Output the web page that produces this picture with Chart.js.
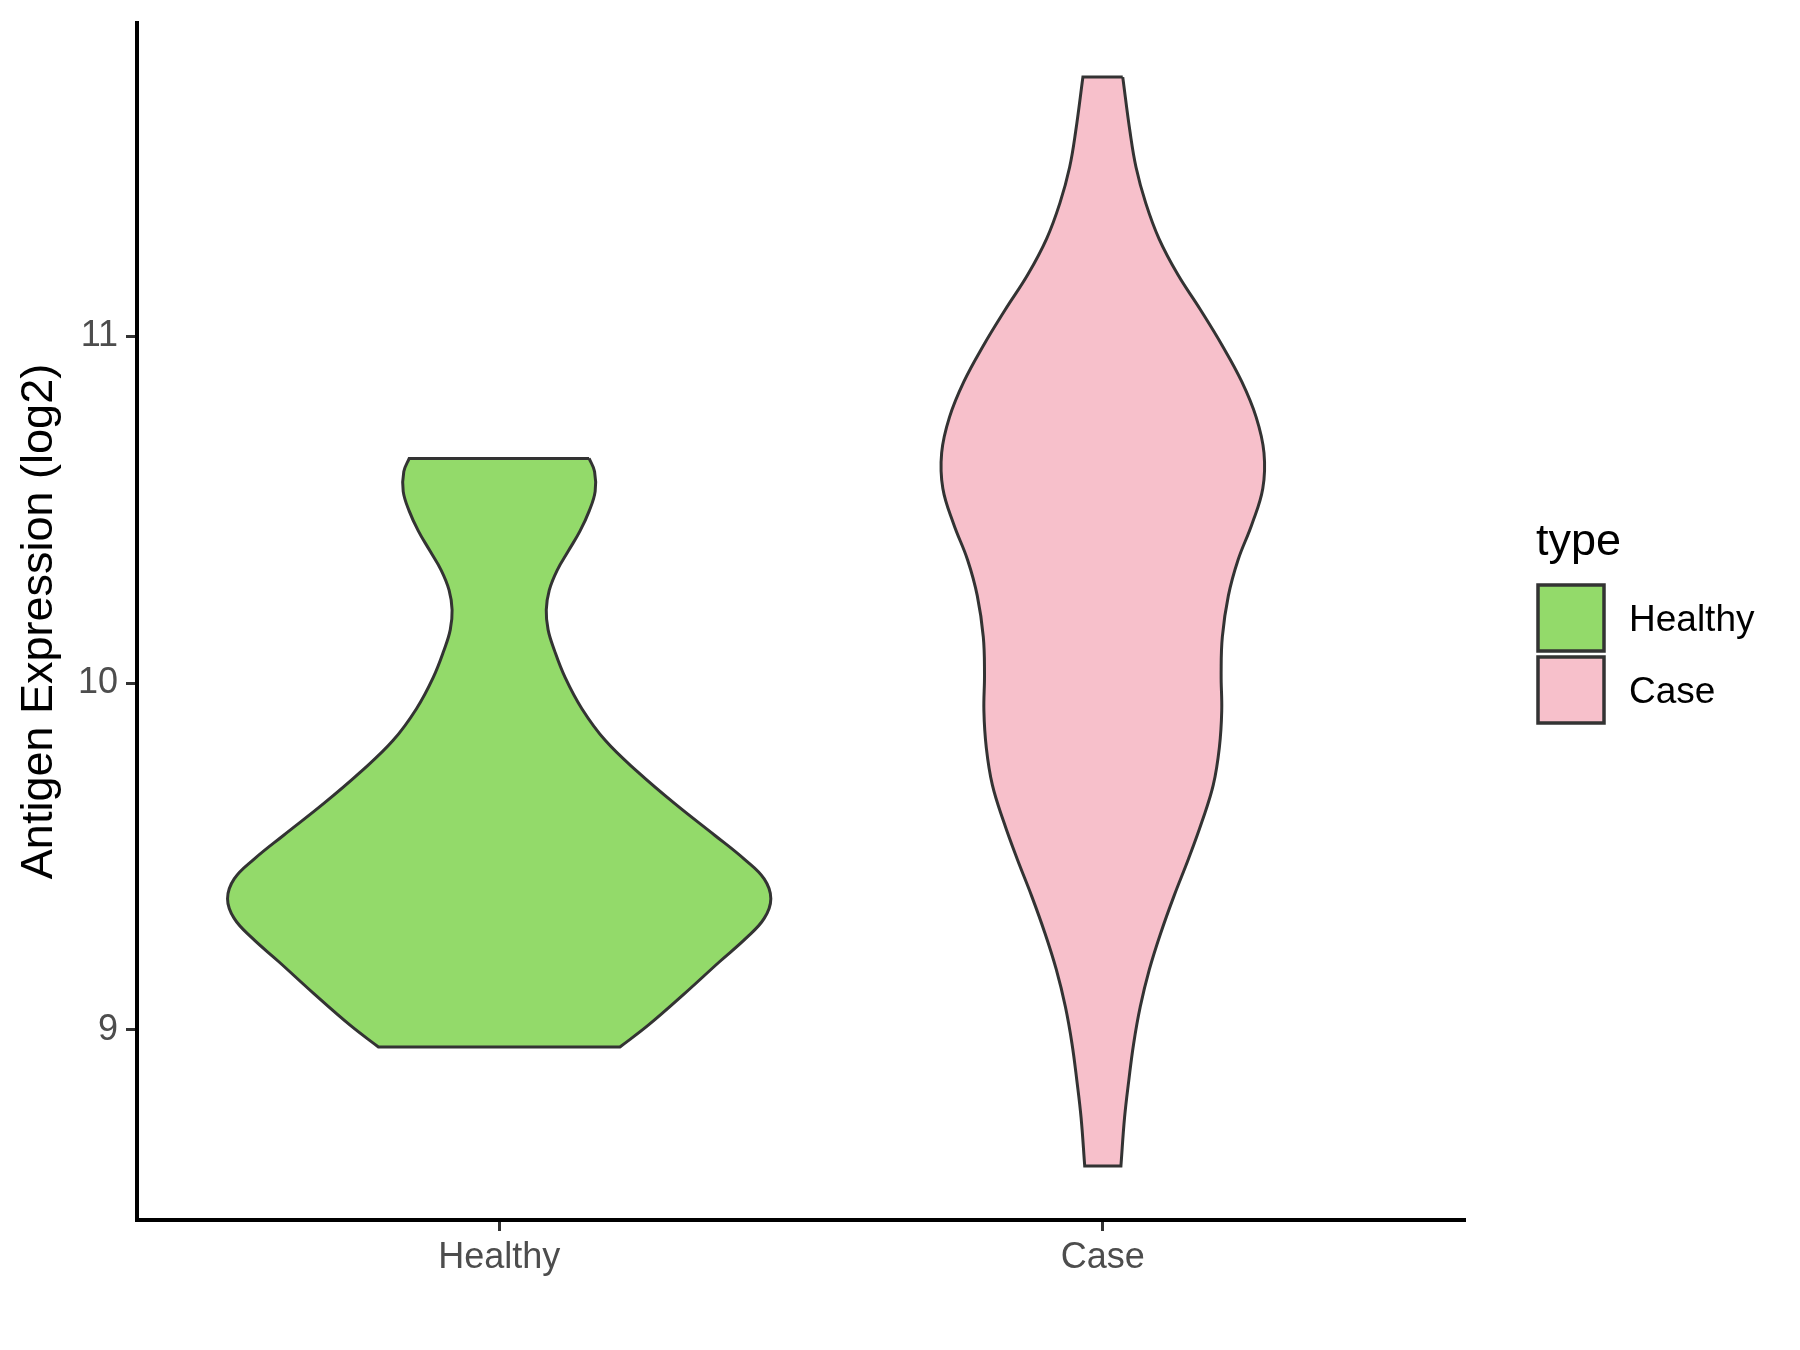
<!DOCTYPE html>
<html>
<head>
<meta charset="utf-8">
<title>Antigen Expression</title>
<script src="https://cdn.jsdelivr.net/npm/chart.js@4.4.1/dist/chart.umd.min.js"></script>
<style>
  html, body { margin: 0; padding: 0; background: #ffffff; }
  #wrap { width: 1800px; height: 1350px; }
</style>
</head>
<body>
<div id="wrap"><canvas id="violin" width="1800" height="1350"></canvas></div>
<script>
// categories and tick labels
var categories = ['Healthy', 'Case'];
var yTicks = [9, 10, 11];

// violin outlines: expression value and half width (in category units)
var healthyValue = [10.648, 10.610, 10.553, 10.496, 10.439, 10.382, 10.325, 10.268, 10.211, 10.154, 10.097, 10.017, 9.926, 9.834, 9.743, 9.652, 9.561, 9.492, 9.435, 9.378, 9.321, 9.264, 9.196, 9.104, 9.013, 8.950];
var healthyHalfWidth = [0.149, 0.158, 0.159, 0.149, 0.134, 0.115, 0.096, 0.083, 0.078, 0.081, 0.091, 0.109, 0.137, 0.176, 0.230, 0.291, 0.357, 0.406, 0.439, 0.450, 0.439, 0.409, 0.365, 0.307, 0.247, 0.200];

var caseValue = [11.748, 11.591, 11.488, 11.385, 11.282, 11.179, 11.076, 10.973, 10.870, 10.767, 10.664, 10.561, 10.458, 10.355, 10.252, 10.133, 10.026, 9.920, 9.813, 9.706, 9.599, 9.493, 9.386, 9.279, 9.173, 9.066, 8.959, 8.853, 8.746, 8.607];
var caseHalfWidth = [0.033, 0.045, 0.055, 0.071, 0.093, 0.124, 0.162, 0.198, 0.230, 0.254, 0.267, 0.265, 0.247, 0.224, 0.208, 0.198, 0.196, 0.197, 0.193, 0.183, 0.164, 0.142, 0.118, 0.096, 0.077, 0.062, 0.051, 0.043, 0.036, 0.030];

var fillColors = ['#93DA6A', '#F7C0CB'];
var lineColor = '#333333';
var fontFamily = "'Liberation Sans', Arial, Helvetica, sans-serif";

// outline of one violin as a closed path: right side down, left side up
// (end points doubled so the flat top and bottom edges stay straight)
function violinPath(center, values, halfWidths) {
   var pts = [];
   var n = values.length;
   var i;
   pts.push({x: center + halfWidths[0], y: values[0]});
   for (i = 0; i < n; i++) {
      pts.push({x: center + halfWidths[i], y: values[i]});
   }
   pts.push({x: center + halfWidths[n - 1], y: values[n - 1]});
   pts.push({x: center - halfWidths[n - 1], y: values[n - 1]});
   for (i = n - 1; i >= 0; i--) {
      pts.push({x: center - halfWidths[i], y: values[i]});
   }
   pts.push({x: center - halfWidths[0], y: values[0]});
   pts.push({x: center + halfWidths[0], y: values[0]});
   return pts;
}

var datasets = [
   {label: categories[0], data: violinPath(1, healthyValue, healthyHalfWidth)},
   {label: categories[1], data: violinPath(2, caseValue, caseHalfWidth)}
].map(function (d, i) {
   d.showLine = true;
   d.fill = 'shape';
   d.backgroundColor = fillColors[i];
   d.borderColor = lineColor;
   d.borderWidth = 3;
   d.tension = 0.4;
   d.pointRadius = 0;
   d.pointHoverRadius = 0;
   return d;
});

// legend drawn to the right of the panel, ggplot style
var sideLegend = {
   id: 'sideLegend',
   afterDraw: function (chart) {
      var ctx = chart.ctx;
      ctx.save();
      ctx.fillStyle = '#000000';
      ctx.textAlign = 'left';
      ctx.textBaseline = 'alphabetic';
      ctx.font = '45px ' + fontFamily;
      ctx.fillText('type', 1536, 555);
      ctx.font = '37px ' + fontFamily;
      for (var i = 0; i < categories.length; i++) {
         var top = 585 + i * 72;
         ctx.fillStyle = fillColors[i];
         ctx.fillRect(1538, top, 66, 66);
         ctx.strokeStyle = lineColor;
         ctx.lineWidth = 3.5;
         ctx.strokeRect(1538, top, 66, 66);
         ctx.fillStyle = '#000000';
         ctx.fillText(categories[i], 1629, top + 46);
      }
      ctx.restore();
   }
};

new Chart(document.getElementById('violin'), {
   type: 'scatter',
   data: {datasets: datasets},
   plugins: [sideLegend],
   options: {
      responsive: false,
      animation: false,
      layout: {padding: {top: 23, right: 335, left: 0, bottom: 0}},
      plugins: {
         legend: {display: false},
         tooltip: {enabled: false}
      },
      scales: {
         x: {
            type: 'linear',
            min: 0.4,
            max: 2.6,
            bounds: 'data',
            afterBuildTicks: function (axis) {
               axis.ticks = categories.map(function (c, i) { return {value: i + 1}; });
            },
            afterFit: function (scale) {
               scale.height = 130;
               scale.paddingLeft = 0;
               scale.paddingRight = 0;
            },
            ticks: {
               color: '#4D4D4D',
               font: {family: fontFamily, size: 36},
               padding: 5,
               maxRotation: 0,
               callback: function (v) { return categories[v - 1]; }
            },
            grid: {drawOnChartArea: false, drawTicks: true, tickLength: 11, tickColor: lineColor, tickWidth: 3},
            border: {display: true, color: '#000000', width: 4}
         },
         y: {
            type: 'linear',
            min: 8.451,
            max: 11.904,
            bounds: 'data',
            afterBuildTicks: function (axis) {
               axis.ticks = yTicks.map(function (v) { return {value: v}; });
            },
            afterFit: function (scale) {
               scale.width = 137;
               scale.paddingTop = 0;
               scale.paddingBottom = 0;
            },
            ticks: {
               color: '#4D4D4D',
               font: {family: fontFamily, size: 36},
               padding: 8,
               callback: function (v) { return String(v); }
            },
            grid: {drawOnChartArea: false, drawTicks: true, tickLength: 11, tickColor: lineColor, tickWidth: 3},
            border: {display: true, color: '#000000', width: 4},
            title: {
               display: true,
               text: 'Antigen Expression (log2)',
               color: '#000000',
               font: {family: fontFamily, size: 45},
               padding: {top: 13, bottom: 0}
            }
         }
      }
   }
});
</script>
</body>
</html>
